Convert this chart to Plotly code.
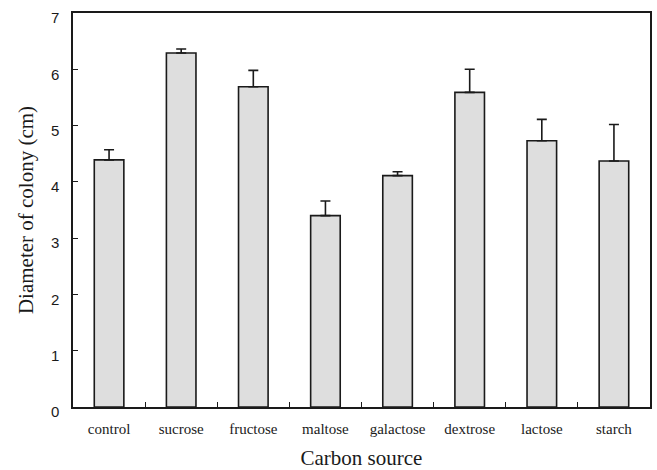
import plotly.graph_objects as go

categories = ["control", "sucrose", "fructose", "maltose", "galactose", "dextrose", "lactose", "starch"]
diameter = [4.39, 6.29, 5.69, 3.40, 4.11, 5.59, 4.73, 4.37]
err_up = [0.18, 0.07, 0.29, 0.26, 0.07, 0.41, 0.38, 0.65]
y_ticks = [0, 1, 2, 3, 4, 5, 6, 7]

dark = "#1a1a1a"
serif = "Liberation Serif, Times New Roman, serif"
sans = "Liberation Sans, Arial, sans-serif"

fig = go.Figure()
fig.add_trace(go.Bar(
    x=categories,
    y=diameter,
    width=0.41,
    marker=dict(color="#dedede", line=dict(color=dark, width=1.6)),
    error_y=dict(type="data", symmetric=False, array=err_up,
                 arrayminus=[0] * len(err_up), width=5, thickness=1.6, color=dark),
    showlegend=False,
))

fig.update_layout(
    width=657, height=470,
    margin=dict(l=73, r=7, t=13, b=63),
    paper_bgcolor="white", plot_bgcolor="white",
    xaxis=dict(
        type="category", automargin=False,
        showline=True, mirror=True, linecolor=dark, linewidth=1.5,
        ticks="inside", tickson="boundaries", ticklen=5, tickcolor=dark, tickwidth=1,
        tickfont=dict(family=serif, size=15, color=dark),
        ticklabelstandoff=7,
        showgrid=False,
        title=dict(text="Carbon source", font=dict(family=serif, size=21, color=dark), standoff=16),
    ),
    yaxis=dict(
        range=[0, 7], tickvals=y_ticks, automargin=False,
        showline=True, mirror=True, linecolor=dark, linewidth=1.5,
        ticks="inside", ticklen=5, tickcolor=dark, tickwidth=1,
        tickfont=dict(family=sans, size=15, color=dark),
        ticklabelstandoff=9, ticklabelshift=5,
        showgrid=False, zeroline=False,
        title=dict(text="Diameter of colony (cm)", font=dict(family=serif, size=21, color=dark), standoff=12),
    ),
)

fig.write_html("out.html")
